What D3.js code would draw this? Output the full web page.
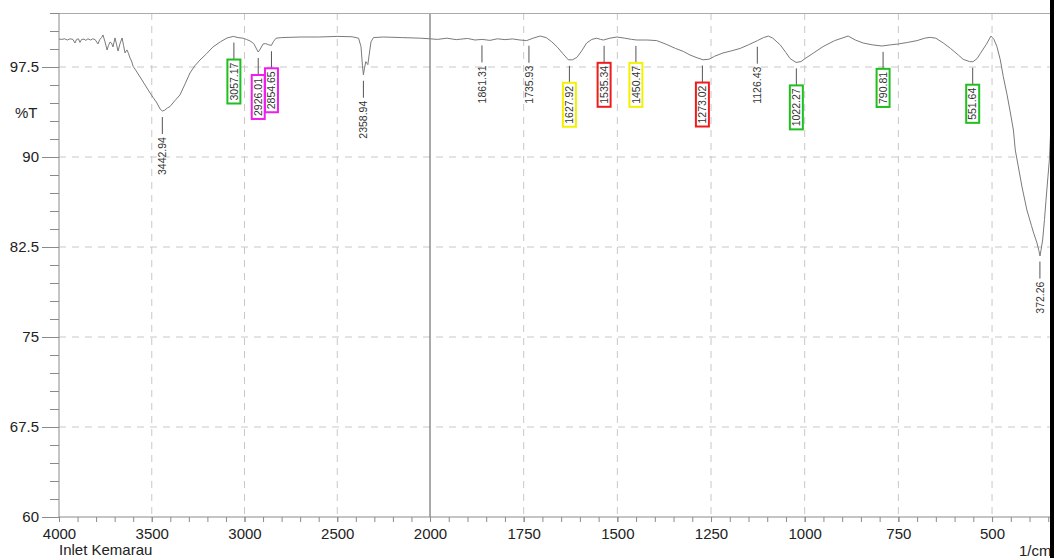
<!DOCTYPE html>
<html lang="en">
<head>
  <meta charset="UTF-8"/>
  <title>FTIR Inlet Kemarau</title>
  <script src="https://d3js.org/d3.v7.min.js"></script>
  <style>
    body { margin:0; background:#fff; overflow:hidden; }
    svg { display:block; font-family:Arial,"Liberation Sans",sans-serif; }
    .grid line { stroke:#c8c8c8; stroke-dasharray:7,6; }
    .axis path, .axis line { stroke:#8a8a8a; }
    .axis text { fill:#222; font-size:15px; }
  </style>
</head>
<body>
<svg width="1054" height="558"></svg>
<script>
  // spectrum (wavenumber 1/cm, %T)
  const wavenumbers = [
    4000,3985,3970,3955,3940,3925,3914,3905,3895,3887,3878,3865,3855,3844,3830,3818,3805,3790,3780,3770,
    3763,3752,3741,3733,3725,3717,3709,3698,3690,3682,3670,3660,3652,3644,3638,3633,3625,3617,3609,3600,
    3585,3563,3540,3509,3490,3472,3455,3443,3430,3415,3402,3375,
    3348,3320,3294,3268,3240,3205,3170,3130,3094,3060,3035,3008,2990,2970,2950,2935,2926,2915,2900,2885,
    2870,2855,2845,2830,2800,2700,2600,2500,2420,2385,2372,2364,2359,2353,2346,2340,2335,2328,2318,2305,
    2250,2150,2050,2000,1980,1955,1930,1900,1880,1861,1840,1820,1800,1780,1760,1742,1725,1706,1690,1675,
    1660,1645,1631,1620,1608,1595,1582,1568,1555,1545,1537,1520,1501,1480,1462,1448,1420,1395,1370,1345,
    1324,1306,1290,1271,1255,1240,1218,1195,1172,1150,1126,1110,1097,1085,1065,1050,1039,1023,1010,999,
    975,951,920,884,865,844,820,794,770,750,725,700,680,665,650,630,611,590,577,560,
    551,540,531,515,503,495,487,478,470,460,451,443,438,420,407,395,389,380,375,372,
    369,365,360,356,351,347,343,340
  ];
  const transmittance = [
    99.83,99.8,99.85,99.75,99.85,99.8,99.5,99.8,99.85,99.55,99.8,99.82,99.72,99.85,99.75,99.85,99.78,99.42,99.8,99.95,
    100.17,99.6,98.92,99.3,99.58,99.5,99.17,99.92,99.4,98.83,99.5,99.92,99.3,98.67,98.85,98.92,98.6,98.25,98.0,97.55,
    97.2,96.67,96.1,95.33,94.9,94.5,94.0,93.83,93.9,94.1,94.2,94.7,
    95.17,96.1,97.0,97.6,98.08,98.6,99.17,99.6,99.92,100.05,99.95,99.9,99.8,99.67,99.45,99.0,98.75,99.0,99.42,99.45,
    99.35,99.3,99.6,99.9,99.95,100.0,100.0,100.05,100.02,99.9,99.2,97.6,96.85,97.4,97.95,97.8,97.7,98.5,99.6,99.95,
    100.0,99.95,99.9,99.85,99.8,99.9,99.78,99.88,99.75,99.8,99.72,99.85,99.78,99.84,99.75,99.7,99.9,100.08,99.95,99.6,
    99.15,98.6,98.1,98.1,98.3,98.85,99.5,99.8,99.9,99.8,99.75,99.9,100.0,99.9,99.8,99.75,99.75,99.7,99.4,99.05,
    98.8,98.5,98.3,98.1,98.15,98.4,98.67,98.85,99.05,99.35,99.7,99.95,100.08,99.9,99.33,98.7,98.2,97.88,97.95,98.2,
    98.7,99.2,99.7,100.08,99.75,99.5,99.35,99.25,99.35,99.42,99.55,99.7,99.9,99.97,99.9,99.5,99.05,98.5,98.14,97.95,
    97.94,98.2,98.64,99.4,100.08,99.8,99.2,98.1,96.7,95.2,93.67,92.25,90.58,87.5,85.58,84.3,83.67,82.83,82.2,81.75,
    82.3,83.08,84.8,86.4,88.3,89.75,92.5,94.5
  ];

  // peak labels and box colours (null = no box)
  const peaks      = [3442.94,3057.17,2926.01,2854.65,2358.94,1861.31,1735.93,1627.92,1535.34,1450.47,1273.02,1126.43,1022.27,790.81,551.64,372.26];
  const peakBoxes  = [null,'#1fbf1f','#f01cf0','#f01cf0',null,null,null,'#f2f200','#ee1c1c','#f2f200','#ee1c1c',null,'#1fbf1f','#1fbf1f','#1fbf1f',null];

  const xMajor = [4000,3500,3000,2500,2000,1750,1500,1250,1000,750,500];
  const yMajor = [60,67.5,75,82.5,90,97.5];

  const svg = d3.select('svg');
  const pL = 59, pR = 1052, pT = 13, pB = 517;

  // the spectrometer plot doubles its scale below 2000 1/cm
  const x = d3.scaleLinear().domain([4000,2000,340]).range([pL,430,pR]);
  const y = d3.scaleLinear().domain([60,102]).range([pB,pT]);

  const xMinor = d3.range(4000,2000,-100).concat(d3.range(2000,340,-50));
  const yMinor = d3.range(60,102.01,1.5);

  // grid
  svg.append('g').attr('class','grid')
    .selectAll('line').data(yMajor.slice(1)).join('line')
      .attr('x1',pL).attr('x2',pR).attr('y1',d=>y(d)).attr('y2',d=>y(d));
  svg.append('g').attr('class','grid')
    .selectAll('line').data(xMajor.filter(d=>d!==4000 && d!==2000)).join('line')
      .attr('y1',pT).attr('y2',pB).attr('x1',d=>x(d)).attr('x2',d=>x(d));
  svg.append('line')
    .attr('x1',x(2000)).attr('x2',x(2000)).attr('y1',pT).attr('y2',pB)
    .attr('stroke','#555').attr('stroke-width',1);

  // frame top
  svg.append('line').attr('x1',pL).attr('x2',pR).attr('y1',pT+0.5).attr('y2',pT+0.5)
    .attr('stroke','#aaa');

  // axes
  const xAxis = svg.append('g').attr('class','axis').attr('transform',`translate(0,${pB})`)
    .call(d3.axisBottom(x).tickValues(xMajor).tickSize(5).tickPadding(6).tickFormat(d3.format('d')));
  svg.append('g').attr('class','axis').attr('transform',`translate(0,${pB})`)
    .call(d3.axisBottom(x).tickValues(xMinor).tickSize(5).tickFormat(''))
    .select('.domain').remove();
  const yAxis = svg.append('g').attr('class','axis').attr('transform',`translate(${pL},0)`)
    .call(d3.axisLeft(y).tickValues(yMajor).tickSize(17).tickPadding(3).tickFormat(d=>d));
  svg.append('g').attr('class','axis').attr('transform',`translate(${pL},0)`)
    .call(d3.axisLeft(y).tickValues(yMinor).tickSize(9).tickFormat(''))
    .select('.domain').remove();
  xAxis.select('.domain').attr('d',`M${pL},0H${pR}`);
  yAxis.select('.domain').attr('d',`M0,${pT}V${pB}`);

  svg.append('text').attr('x',15).attr('y',118).attr('font-size',15).attr('fill','#222').text('%T');
  svg.append('text').attr('x',59).attr('y',555).attr('font-size',15).attr('fill','#222').text('Inlet Kemarau');
  svg.append('text').attr('x',1019).attr('y',556).attr('font-size',15).attr('fill','#222').text('1/cm');

  // spectrum
  const pts = wavenumbers.map((w,i)=>[w,transmittance[i]]);
  svg.append('path').datum(pts)
    .attr('fill','none').attr('stroke','#7a7a7a').attr('stroke-width',1)
    .attr('d',d3.line().x(d=>x(d[0])).y(d=>y(d[1])));

  // peak markers
  const asc = pts.slice().reverse();
  const bis = d3.bisector(d=>d[0]).left;
  function tAt(w){
    const i = Math.max(1,Math.min(asc.length-1,bis(asc,w)));
    const a = asc[i-1], b = asc[i];
    return a[1] + (b[1]-a[1])*(w-a[0])/(b[0]-a[0]);
  }
  const pg = svg.append('g');
  peaks.forEach((w,i)=>{
    const px = x(w), cy = y(tAt(w));
    const l0 = cy+6, l1 = cy+23;
    pg.append('line').attr('x1',px).attr('x2',px).attr('y1',l0).attr('y2',l1)
      .attr('stroke','#555').attr('stroke-width',1);
    const t0 = l1 + 3;
    const txt = pg.append('text')
      .attr('transform',`translate(${px},${t0}) rotate(-90)`)
      .attr('text-anchor','end').attr('dy','0.35em')
      .attr('font-size',10.5).attr('fill','#333')
      .text(w.toFixed(2));
    if(peakBoxes[i]){
      const len = txt.node().getComputedTextLength();
      pg.append('rect')
        .attr('x',px-6.5).attr('y',l1).attr('width',13).attr('height',len+6)
        .attr('fill','none').attr('stroke',peakBoxes[i]).attr('stroke-width',2);
    }
  });

  // dark strip on the cut right edge
  svg.append('rect').attr('x',1050).attr('y',0).attr('width',4).attr('height',558).attr('fill','#000');
</script>
</body>
</html>
